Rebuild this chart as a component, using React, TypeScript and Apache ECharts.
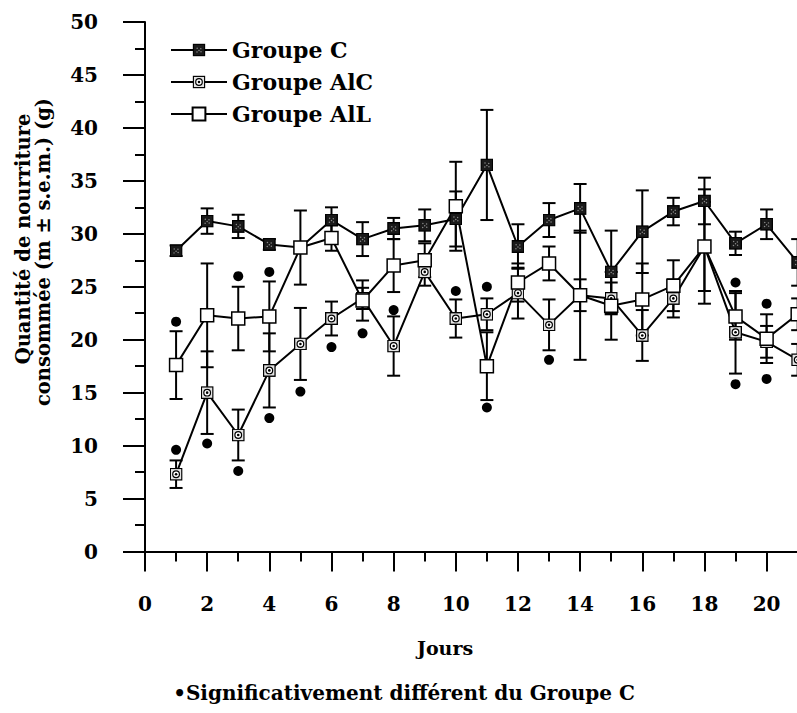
import React, { useEffect, useRef } from "react";
import * as echarts from "echarts";

const days = [1, 2, 3, 4, 5, 6, 7, 8, 9, 10, 11, 12, 13, 14, 15, 16, 17, 18, 19, 20, 21];
const groupC = [28.4, 31.2, 30.7, 29.0, 28.7, 31.3, 29.5, 30.5, 30.8, 31.4, 36.5, 28.8, 31.3, 32.4, 26.4, 30.2, 32.1, 33.1, 29.1, 30.9, 27.3];
const groupCErr = [0.5, 1.2, 1.1, 0.5, 0.5, 1.2, 1.6, 1.0, 1.5, 2.6, 5.2, 2.1, 1.6, 2.3, 3.9, 3.9, 1.3, 2.2, 1.1, 1.4, 2.2];
const groupAlC = [7.3, 15.0, 11.0, 17.1, 19.6, 22.0, 23.9, 19.4, 26.4, 22.0, 22.4, 24.4, 21.4, 24.2, 23.9, 20.4, 23.9, 28.8, 20.7, 19.8, 18.1];
const groupAlCErr = [1.3, 3.9, 2.4, 3.5, 3.4, 1.6, 1.0, 2.8, 1.3, 1.8, 1.5, 2.4, 2.4, 1.5, 1.5, 2.4, 1.8, 4.2, 3.9, 1.5, 1.5];
const groupAlL = [17.6, 22.3, 22.0, 22.2, 28.7, 29.6, 23.7, 27.0, 27.5, 32.6, 17.5, 25.4, 27.2, 24.2, 23.2, 23.8, 25.1, 28.8, 22.2, 20.1, 22.4];
const groupAlLErr = [3.2, 4.9, 3.0, 3.3, 3.5, 1.2, 1.9, 2.5, 1.6, 4.2, 3.2, 1.8, 1.6, 6.1, 3.2, 3.4, 2.4, 5.4, 2.2, 2.3, 1.5];
const sigDays = [1, 1, 2, 3, 3, 4, 4, 5, 6, 7, 8, 10, 11, 11, 13, 19, 19, 20, 20];
const sigValues = [21.7, 9.6, 10.2, 26.0, 7.6, 26.4, 12.6, 15.1, 19.3, 20.6, 22.8, 24.6, 25.0, 13.6, 18.1, 25.4, 15.8, 23.4, 16.3];

const seriesNames = ["Groupe C", "Groupe AlC", "Groupe AlL"];
const xAxisTitle = "Jours";
const yAxisTitle1 = "Quantité de nourriture";
const yAxisTitle2 = "consommée (m ± s.e.m.) (g)";
const footnote = "•Significativement différent du Groupe C";

const FONT = "'DejaVu Serif', serif";

const svgC =
  "<svg xmlns='http://www.w3.org/2000/svg' width='14' height='14' viewBox='0 0 14 14'>" +
  "<rect x='0.75' y='0.75' width='12.5' height='12.5' fill='#1a1a1a' stroke='#000' stroke-width='1.5'/>" +
  "<g fill='#8c8c8c'><circle cx='5' cy='5' r='0.8'/><circle cx='9' cy='5.5' r='0.8'/><circle cx='7' cy='7.5' r='0.8'/><circle cx='4.8' cy='9.3' r='0.8'/><circle cx='9.2' cy='9' r='0.8'/></g></svg>";
const svgAlC =
  "<svg xmlns='http://www.w3.org/2000/svg' width='14' height='14' viewBox='0 0 14 14'>" +
  "<rect x='0.75' y='0.75' width='12.5' height='12.5' fill='#e4e4e4' stroke='#000' stroke-width='1.5'/>" +
  "<circle cx='7' cy='7' r='3.6' fill='#fff' stroke='#000' stroke-width='1.3'/><circle cx='7' cy='7' r='1.4' fill='#000'/></svg>";
const imgSymbol = (s: string) => "image://data:image/svg+xml;charset=utf-8," + encodeURIComponent(s);

function errData(vals: number[], errs: number[]) {
  return days.map((d, i) => [d, vals[i] - errs[i], vals[i] + errs[i]]);
}

function errSeries(vals: number[], errs: number[]) {
  return {
    type: "custom",
    z: 1,
    silent: true,
    data: errData(vals, errs),
    encode: { x: 0, y: [1, 2] },
    renderItem: (params: any, api: any) => {
      const x = api.value(0);
      const lo = api.value(1);
      const hi = api.value(2);
      const p1 = api.coord([x, hi]);
      const p2 = api.coord([x, lo]);
      const hw = 6.5;
      const st = { stroke: "#000", lineWidth: 2 };
      return {
        type: "group",
        children: [
          { type: "line", shape: { x1: p1[0], y1: p1[1], x2: p2[0], y2: p2[1] }, style: st },
          { type: "line", shape: { x1: p1[0] - hw, y1: p1[1], x2: p1[0] + hw, y2: p1[1] }, style: st },
          { type: "line", shape: { x1: p2[0] - hw, y1: p2[1], x2: p2[0] + hw, y2: p2[1] }, style: st },
        ],
      };
    },
  };
}

function lineSeries(name: string, vals: number[], symbol: string, itemStyle: any) {
  return {
    type: "line",
    name,
    z: 3,
    data: days.map((d, i) => [d, vals[i]]),
    symbol,
    symbolSize: 13,
    showAllSymbol: true,
    lineStyle: { color: "#000", width: 2 },
    itemStyle,
    emphasis: { disabled: true },
  };
}

function textEl(text: string, x: number, y: number, size: number, rotation = 0) {
  return {
    type: "text",
    x,
    y,
    rotation,
    style: {
      text,
      fontSize: size,
      fontWeight: "bold",
      fontFamily: FONT,
      fill: "#000",
      align: "center",
      verticalAlign: "middle",
      textAlign: "center",
      textVerticalAlign: "middle",
    },
  };
}

export default function App() {
  const ref = useRef<HTMLDivElement>(null);
  useEffect(() => {
    if (!ref.current) return;
    const chart = echarts.init(ref.current, null, { renderer: "svg" });
    const axisText = { fontSize: 20, fontWeight: "bold", fontFamily: FONT, color: "#000" };
    chart.setOption({
      animation: false,
      backgroundColor: "#fff",
      grid: { left: 145, top: 22, width: 22 * 31.08, height: 529.5, containLabel: false },
      xAxis: {
        type: "value",
        min: 0,
        max: 22,
        interval: 2,
        axisLine: { show: true, onZero: false, lineStyle: { color: "#000", width: 2 } },
        axisTick: { show: true, length: 20, lineStyle: { color: "#000", width: 2 } },
        minorTick: { show: true, splitNumber: 2, length: 10, lineStyle: { color: "#000", width: 2 } },
        splitLine: { show: false },
        minorSplitLine: { show: false },
        axisLabel: { ...axisText, margin: 42, showMaxLabel: false },
      },
      yAxis: {
        type: "value",
        min: 0,
        max: 50,
        interval: 5,
        axisLine: { show: true, onZero: false, lineStyle: { color: "#000", width: 2 } },
        axisTick: { show: true, length: 22, lineStyle: { color: "#000", width: 2 } },
        minorTick: { show: true, splitNumber: 2, length: 10, lineStyle: { color: "#000", width: 2 } },
        splitLine: { show: false },
        minorSplitLine: { show: false },
        axisLabel: { ...axisText, margin: 47 },
      },
      legend: {
        data: seriesNames,
        orient: "vertical",
        left: 170,
        top: 39,
        padding: 0,
        itemWidth: 56,
        itemHeight: 16,
        itemGap: 10,
        selectedMode: false,
        textStyle: { fontSize: 22, fontWeight: "bold", fontFamily: FONT, color: "#000", lineHeight: 20 },
      },
      graphic: [
        textEl(xAxisTitle, 445, 648, 19),
        textEl(footnote, 404, 693, 20),
        textEl(yAxisTitle1, 23, 239, 19.5, Math.PI / 2),
        textEl(yAxisTitle2, 43, 252, 19.5, Math.PI / 2),
      ],
      series: [
        errSeries(groupC, groupCErr),
        errSeries(groupAlC, groupAlCErr),
        errSeries(groupAlL, groupAlLErr),
        lineSeries(seriesNames[0], groupC, imgSymbol(svgC), { color: "#1a1a1a" }),
        lineSeries(seriesNames[1], groupAlC, imgSymbol(svgAlC), { color: "#e4e4e4" }),
        lineSeries(seriesNames[2], groupAlL, "rect", { color: "#fff", borderColor: "#000", borderWidth: 1.5 }),
        {
          type: "scatter",
          z: 4,
          silent: true,
          data: sigDays.map((d, i) => [d, sigValues[i]]),
          symbol: "circle",
          symbolSize: 10,
          itemStyle: { color: "#000", opacity: 1 },
        },
      ],
    });
    return () => chart.dispose();
  }, []);
  return (
    <div style={{ position: "fixed", left: 0, top: 0, width: 797, height: 713, overflow: "hidden", background: "#fff" }}>
      <div ref={ref} style={{ width: 860, height: 713 }} />
    </div>
  );
}
